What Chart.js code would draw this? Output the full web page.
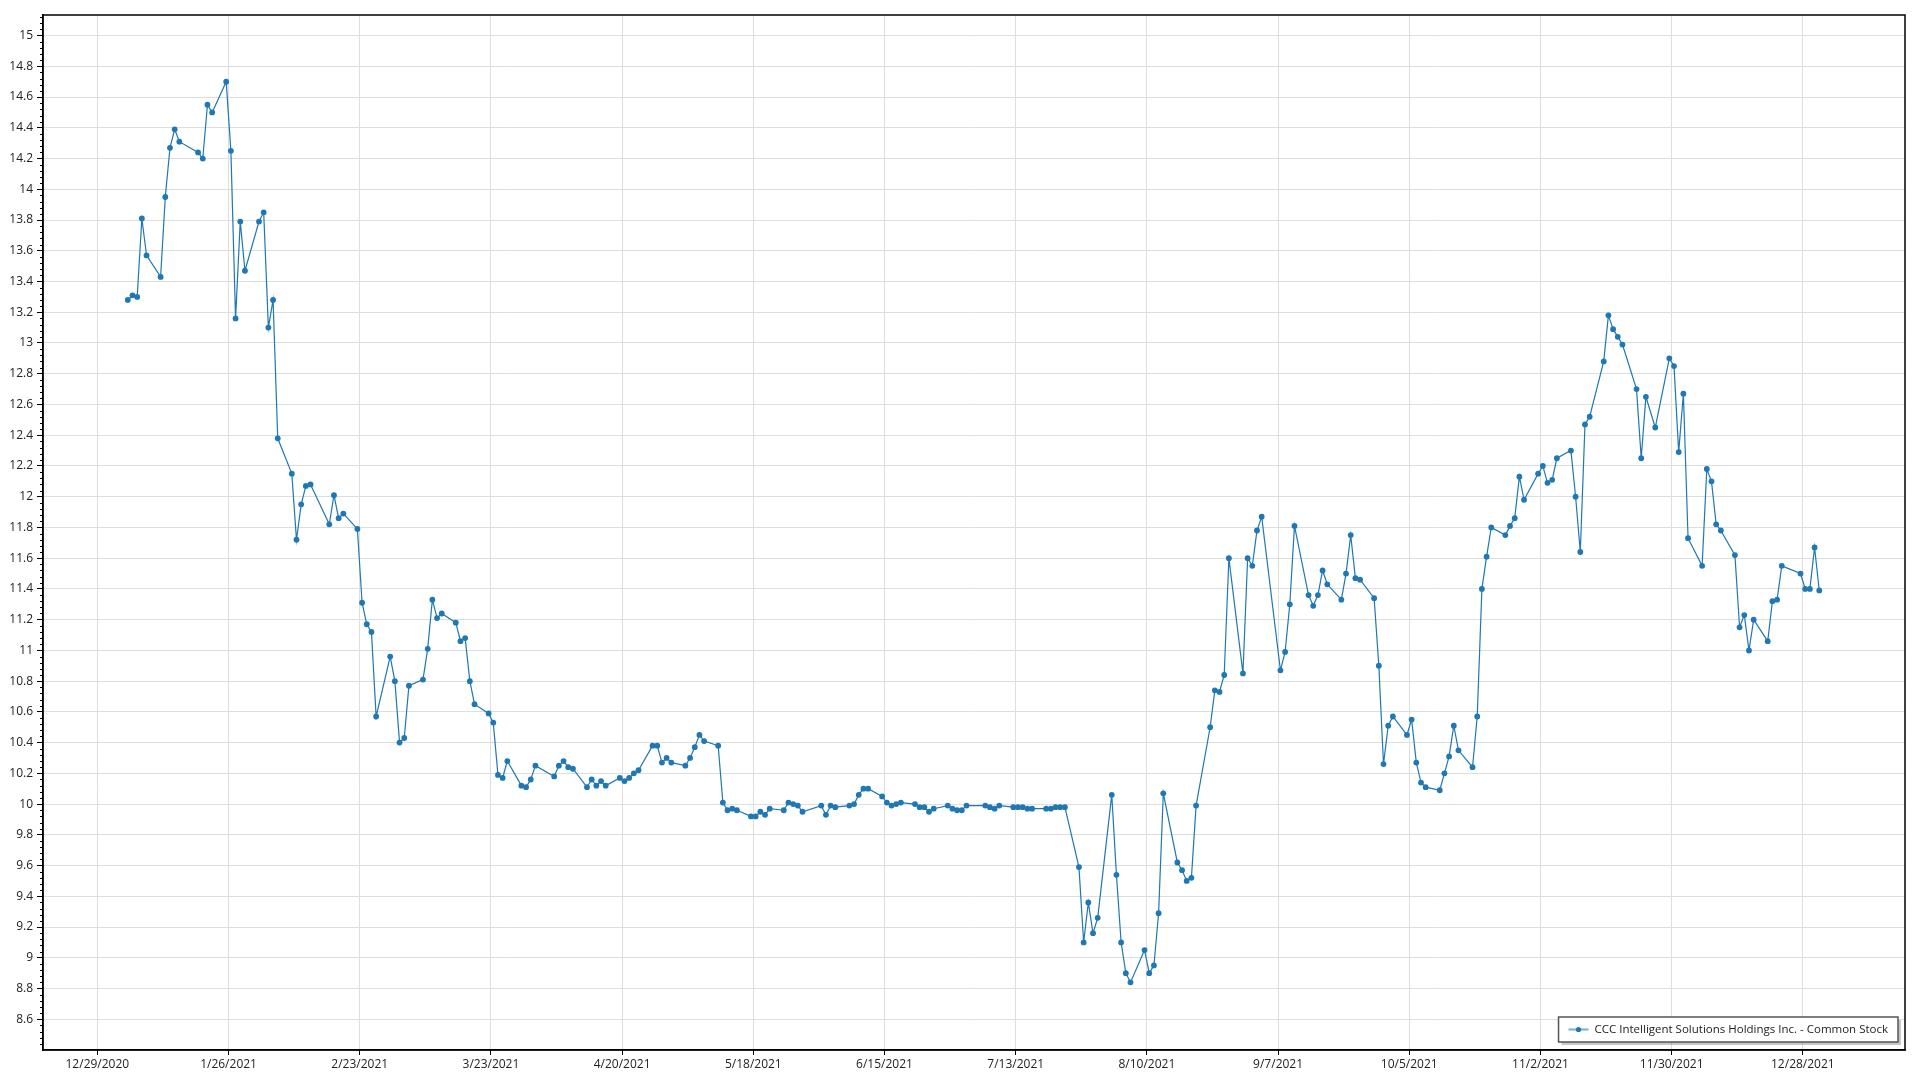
<!DOCTYPE html>
<html>
<head>
<meta charset="utf-8">
<title>CCC Intelligent Solutions Holdings Inc. - Common Stock</title>
<script src="https://cdn.jsdelivr.net/npm/chart.js@4.4.1/dist/chart.umd.min.js"></script>
<style>
    html, body { margin: 0; padding: 0; background: #fff; }
    #grafica { display: block; }
</style>
</head>
<body>
<canvas id="grafica" width="1920" height="1080"></canvas>
<script>
var serieNombre = 'CCC Intelligent Solutions Holdings Inc. - Common Stock';

var fechas = [
    '2021-01-04', '2021-01-05', '2021-01-06', '2021-01-07', '2021-01-08', '2021-01-11', '2021-01-12', '2021-01-13', '2021-01-14', '2021-01-15',
    '2021-01-19', '2021-01-20', '2021-01-21', '2021-01-22', '2021-01-25', '2021-01-26', '2021-01-27', '2021-01-28', '2021-01-29',
    '2021-02-01', '2021-02-02', '2021-02-03', '2021-02-04', '2021-02-05', '2021-02-08', '2021-02-09', '2021-02-10', '2021-02-11', '2021-02-12',
    '2021-02-16', '2021-02-17', '2021-02-18', '2021-02-19', '2021-02-22', '2021-02-23', '2021-02-24', '2021-02-25', '2021-02-26',
    '2021-03-01', '2021-03-02', '2021-03-03', '2021-03-04', '2021-03-05', '2021-03-08', '2021-03-09', '2021-03-10', '2021-03-11', '2021-03-12',
    '2021-03-15', '2021-03-16', '2021-03-17', '2021-03-18', '2021-03-19', '2021-03-22', '2021-03-23', '2021-03-24', '2021-03-25', '2021-03-26',
    '2021-03-29', '2021-03-30', '2021-03-31', '2021-04-01', '2021-04-05', '2021-04-06', '2021-04-07', '2021-04-08', '2021-04-09',
    '2021-04-12', '2021-04-13', '2021-04-14', '2021-04-15', '2021-04-16', '2021-04-19', '2021-04-20', '2021-04-21', '2021-04-22', '2021-04-23',
    '2021-04-26', '2021-04-27', '2021-04-28', '2021-04-29', '2021-04-30', '2021-05-03', '2021-05-04', '2021-05-05', '2021-05-06', '2021-05-07',
    '2021-05-10', '2021-05-11', '2021-05-12', '2021-05-13', '2021-05-14', '2021-05-17', '2021-05-18', '2021-05-19', '2021-05-20', '2021-05-21',
    '2021-05-24', '2021-05-25', '2021-05-26', '2021-05-27', '2021-05-28', '2021-06-01', '2021-06-02', '2021-06-03', '2021-06-04',
    '2021-06-07', '2021-06-08', '2021-06-09', '2021-06-10', '2021-06-11', '2021-06-14', '2021-06-15', '2021-06-16', '2021-06-17', '2021-06-18',
    '2021-06-21', '2021-06-22', '2021-06-23', '2021-06-24', '2021-06-25', '2021-06-28', '2021-06-29', '2021-06-30', '2021-07-01', '2021-07-02',
    '2021-07-06', '2021-07-07', '2021-07-08', '2021-07-09', '2021-07-12', '2021-07-13', '2021-07-14', '2021-07-15', '2021-07-16',
    '2021-07-19', '2021-07-20', '2021-07-21', '2021-07-22', '2021-07-23', '2021-07-26', '2021-07-27', '2021-07-28', '2021-07-29', '2021-07-30',
    '2021-08-02', '2021-08-03', '2021-08-04', '2021-08-05', '2021-08-06', '2021-08-09', '2021-08-10', '2021-08-11', '2021-08-12', '2021-08-13',
    '2021-08-16', '2021-08-17', '2021-08-18', '2021-08-19', '2021-08-20', '2021-08-23', '2021-08-24', '2021-08-25', '2021-08-26', '2021-08-27',
    '2021-08-30', '2021-08-31', '2021-09-01', '2021-09-02', '2021-09-03', '2021-09-07', '2021-09-08', '2021-09-09', '2021-09-10',
    '2021-09-13', '2021-09-14', '2021-09-15', '2021-09-16', '2021-09-17', '2021-09-20', '2021-09-21', '2021-09-22', '2021-09-23', '2021-09-24',
    '2021-09-27', '2021-09-28', '2021-09-29', '2021-09-30', '2021-10-01', '2021-10-04', '2021-10-05', '2021-10-06', '2021-10-07', '2021-10-08',
    '2021-10-11', '2021-10-12', '2021-10-13', '2021-10-14', '2021-10-15', '2021-10-18', '2021-10-19', '2021-10-20', '2021-10-21', '2021-10-22',
    '2021-10-25', '2021-10-26', '2021-10-27', '2021-10-28', '2021-10-29', '2021-11-01', '2021-11-02', '2021-11-03', '2021-11-04', '2021-11-05',
    '2021-11-08', '2021-11-09', '2021-11-10', '2021-11-11', '2021-11-12', '2021-11-15', '2021-11-16', '2021-11-17', '2021-11-18', '2021-11-19',
    '2021-11-22', '2021-11-23', '2021-11-24', '2021-11-26', '2021-11-29', '2021-11-30', '2021-12-01', '2021-12-02', '2021-12-03',
    '2021-12-06', '2021-12-07', '2021-12-08', '2021-12-09', '2021-12-10', '2021-12-13', '2021-12-14', '2021-12-15', '2021-12-16', '2021-12-17',
    '2021-12-20', '2021-12-21', '2021-12-22', '2021-12-23', '2021-12-27', '2021-12-28', '2021-12-29', '2021-12-30', '2021-12-31'
];

var cierres = [
    13.28, 13.31, 13.30, 13.81, 13.57, 13.43, 13.95, 14.27, 14.39, 14.31,
    14.24, 14.20, 14.55, 14.50, 14.70, 14.25, 13.16, 13.79, 13.47,
    13.79, 13.85, 13.10, 13.28, 12.38, 12.15, 11.72, 11.95, 12.07, 12.08,
    11.82, 12.01, 11.86, 11.89, 11.79, 11.31, 11.17, 11.12, 10.57,
    10.96, 10.80, 10.40, 10.43, 10.77, 10.81, 11.01, 11.33, 11.21, 11.24,
    11.18, 11.06, 11.08, 10.80, 10.65, 10.59, 10.53, 10.19, 10.17, 10.28,
    10.12, 10.11, 10.16, 10.25, 10.18, 10.25, 10.28, 10.24, 10.23,
    10.11, 10.16, 10.12, 10.15, 10.12, 10.17, 10.15, 10.17, 10.20, 10.22,
    10.38, 10.38, 10.27, 10.30, 10.27, 10.25, 10.30, 10.37, 10.45, 10.41,
    10.38, 10.01, 9.96, 9.97, 9.96, 9.92, 9.92, 9.95, 9.93, 9.97,
    9.96, 10.01, 10.00, 9.99, 9.95, 9.99, 9.93, 9.99, 9.98,
    9.99, 10.00, 10.06, 10.10, 10.10, 10.05, 10.01, 9.99, 10.00, 10.01,
    10.00, 9.98, 9.98, 9.95, 9.97, 9.99, 9.97, 9.96, 9.96, 9.99,
    9.99, 9.98, 9.97, 9.99, 9.98, 9.98, 9.98, 9.97, 9.97,
    9.97, 9.97, 9.98, 9.98, 9.98, 9.59, 9.10, 9.36, 9.16, 9.26,
    10.06, 9.54, 9.10, 8.90, 8.84, 9.05, 8.90, 8.95, 9.29, 10.07,
    9.62, 9.57, 9.50, 9.52, 9.99, 10.50, 10.74, 10.73, 10.84, 11.60,
    10.85, 11.60, 11.55, 11.78, 11.87, 10.87, 10.99, 11.30, 11.81,
    11.36, 11.29, 11.36, 11.52, 11.43, 11.33, 11.50, 11.75, 11.47, 11.46,
    11.34, 10.90, 10.26, 10.51, 10.57, 10.45, 10.55, 10.27, 10.14, 10.11,
    10.09, 10.20, 10.31, 10.51, 10.35, 10.24, 10.57, 11.40, 11.61, 11.80,
    11.75, 11.81, 11.86, 12.13, 11.98, 12.15, 12.20, 12.09, 12.11, 12.25,
    12.30, 12.00, 11.64, 12.47, 12.52, 12.88, 13.18, 13.09, 13.04, 12.99,
    12.70, 12.25, 12.65, 12.45, 12.90, 12.85, 12.29, 12.67, 11.73,
    11.55, 12.18, 12.10, 11.82, 11.78, 11.62, 11.15, 11.23, 11.00, 11.20,
    11.06, 11.32, 11.33, 11.55, 11.50, 11.40, 11.40, 11.67, 11.39
];

var etiquetasX = ['12/29/2020', '1/26/2021', '2/23/2021', '3/23/2021', '4/20/2021', '5/18/2021', '6/15/2021',
    '7/13/2021', '8/10/2021', '9/7/2021', '10/5/2021', '11/2/2021', '11/30/2021', '12/28/2021'];

var valoresY = [8.6, 8.8, 9, 9.2, 9.4, 9.6, 9.8, 10, 10.2, 10.4, 10.6, 10.8, 11, 11.2, 11.4, 11.6, 11.8,
    12, 12.2, 12.4, 12.6, 12.8, 13, 13.2, 13.4, 13.6, 13.8, 14, 14.2, 14.4, 14.6, 14.8, 15];

var DIA = 86400000;
var origen = Date.UTC(2020, 11, 29);

// los cierres se colocan a mediodia, como en el original
function diaDeFecha(iso) {
    var p = iso.split('-');
    return (Date.UTC(+p[0], +p[1] - 1, +p[2], 12) - origen) / DIA;
}

function diaDeEtiqueta(txt) {
    var p = txt.split('/');
    return (Date.UTC(+p[2], +p[0] - 1, +p[1]) - origen) / DIA;
}

var colorSerie = 'rgb(31, 119, 180)';
var fuente = '"Open Sans", "Noto Sans", sans-serif';

document.addEventListener('DOMContentLoaded', function () {
    var puntos = fechas.map(function (f, i) {
        return { x: diaDeFecha(f), y: cierres[i] };
    });
    var diasX = etiquetasX.map(diaDeEtiqueta);

    // marco, ticks menores y leyenda dentro del area
    var extras = {
        id: 'extras',
        afterDraw: function (chart) {
            var ctx = chart.ctx;
            var a = chart.chartArea;
            var ey = chart.scales.y;
            ctx.save();

            ctx.strokeStyle = '#000';
            ctx.lineWidth = 1;
            ctx.beginPath();
            for (var k = Math.ceil(ey.min * 25); k <= Math.floor(ey.max * 25); k++) {
                if (k % 5 === 0) continue;
                var py = Math.round(ey.getPixelForValue(k / 25)) + 0.5;
                ctx.moveTo(a.left - 3, py);
                ctx.lineTo(a.left, py);
            }
            ctx.stroke();

            ctx.lineWidth = 1.5;
            ctx.strokeRect(a.left, a.top, a.right - a.left, a.bottom - a.top);

            ctx.font = '11.5px ' + fuente;
            var ancho = ctx.measureText(serieNombre).width + 46;
            var alto = 25;
            var bx = a.right - 7 - ancho;
            var by = a.bottom - 8 - alto;

            ctx.fillStyle = 'rgba(0, 0, 0, 0.22)';
            ctx.fillRect(bx + 3, by + 3, ancho, alto);
            ctx.fillStyle = '#fff';
            ctx.fillRect(bx, by, ancho, alto);
            ctx.strokeStyle = '#555';
            ctx.lineWidth = 1.5;
            ctx.strokeRect(bx, by, ancho, alto);

            var cy = by + alto / 2;
            ctx.strokeStyle = 'rgba(31, 119, 180, 0.6)';
            ctx.lineWidth = 2;
            ctx.beginPath();
            ctx.moveTo(bx + 10, cy);
            ctx.lineTo(bx + 30, cy);
            ctx.stroke();
            ctx.fillStyle = colorSerie;
            ctx.beginPath();
            ctx.arc(bx + 20, cy, 2.6, 0, Math.PI * 2);
            ctx.fill();

            ctx.fillStyle = '#222';
            ctx.textBaseline = 'middle';
            ctx.textAlign = 'left';
            ctx.fillText(serieNombre, bx + 36, cy + 0.5);
            ctx.restore();
        }
    };

    var ctx = document.getElementById('grafica').getContext('2d');
    var grafica = new Chart(ctx, {
        type: 'line',
        data: {
            datasets: [{
                label: serieNombre,
                data: puntos,
                borderColor: colorSerie,
                backgroundColor: colorSerie,
                borderWidth: 1.2,
                pointRadius: 2.9,
                pointBorderWidth: 0,
                pointHoverRadius: 3,
                tension: 0,
                fill: false
            }]
        },
        options: {
            responsive: false,
            animation: false,
            layout: { padding: { top: 15, right: 15, left: 0, bottom: 0 } },
            plugins: {
                legend: { display: false },
                tooltip: { enabled: false }
            },
            scales: {
                x: {
                    type: 'linear',
                    min: -11.6,
                    max: 385.8,
                    afterBuildTicks: function (eje) {
                        eje.ticks = diasX.map(function (d) { return { value: d }; });
                    },
                    afterFit: function (eje) { eje.height = 30; },
                    grid: { color: '#dedede', tickColor: '#000', tickLength: 5, lineWidth: 1 },
                    border: { color: '#000', width: 1.5 },
                    ticks: {
                        color: '#222',
                        padding: 2,
                        maxRotation: 0,
                        autoSkip: false,
                        font: { family: fuente, size: 12 },
                        callback: function (v) {
                            var i = diasX.indexOf(v);
                            return i >= 0 ? etiquetasX[i] : '';
                        }
                    }
                },
                y: {
                    type: 'linear',
                    min: 8.4,
                    max: 15.134,
                    afterBuildTicks: function (eje) {
                        eje.ticks = valoresY.map(function (v) { return { value: v }; });
                    },
                    afterFit: function (eje) { eje.width = 43; },
                    grid: { color: '#dedede', tickColor: '#000', tickLength: 6, lineWidth: 1 },
                    border: { color: '#000', width: 1.5 },
                    ticks: {
                        color: '#222',
                        padding: 4,
                        autoSkip: false,
                        font: { family: fuente, size: 12 },
                        callback: function (v) { return String(+v.toFixed(1)); }
                    }
                }
            }
        },
        plugins: [extras]
    });
});
</script>
</body>
</html>
